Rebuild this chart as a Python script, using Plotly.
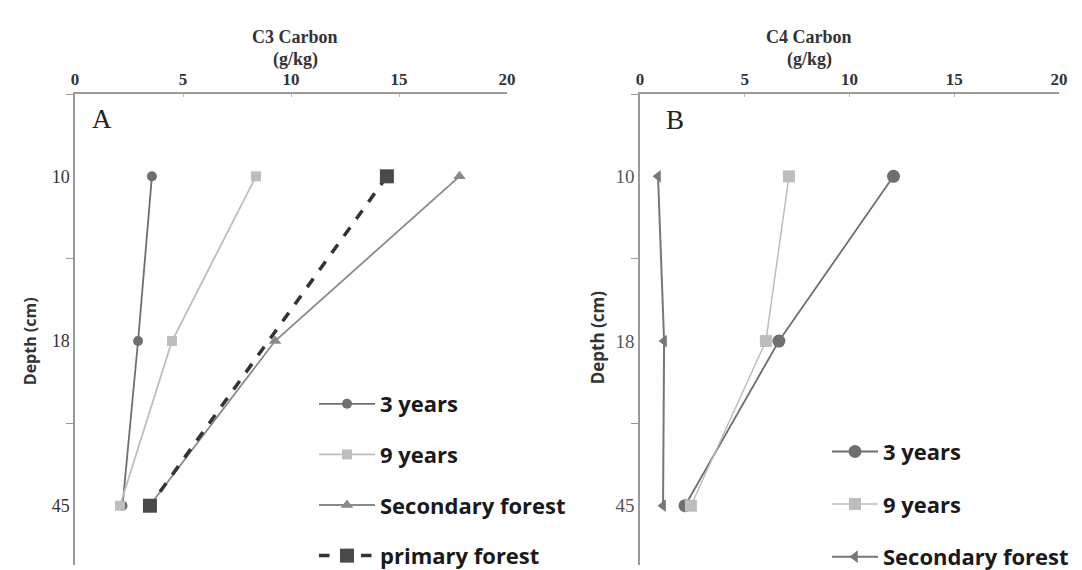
import plotly.graph_objects as go

depths = ["10", "18", "45"]
x_ticks = [0, 5, 10, 15, 20]

# Panel A: C3 carbon (g/kg)
c3_3yr = [3.56, 2.92, 2.2]
c3_9yr = [8.38, 4.49, 2.08]
c3_secondary = [17.8, 9.26, 3.45]
c3_primary = [14.44, None, 3.47]

# Panel B: C4 carbon (g/kg)
c4_3yr = [12.1, 6.63, 2.15]
c4_9yr = [7.11, 6.01, 2.43]
c4_secondary = [0.86, 1.15, 1.1]

W, H = 1082, 570
MT, MB = 86, 0
def px(x):
    return x / W
def py(y):
    return (H - MB - y) / (H - MT - MB)

fig = go.Figure()

c_dark = "#6f6f6f"
c_light = "#bdbdbd"
c_mid = "#8a8a8a"

# Panel A traces
fig.add_trace(go.Scatter(x=c3_3yr, y=depths, name="3 years", mode="lines+markers",
    line=dict(color=c_dark, width=1.8), marker=dict(symbol="circle", size=10, color=c_dark),
    xaxis="x", yaxis="y", legend="legend", legendgroup="a1"))
fig.add_trace(go.Scatter(x=c3_9yr, y=depths, name="9 years", mode="lines+markers",
    line=dict(color=c_light, width=1.8), marker=dict(symbol="square", size=10, color=c_light),
    xaxis="x", yaxis="y", legend="legend", legendgroup="a2"))
fig.add_trace(go.Scatter(x=c3_secondary, y=depths, name="Secondary forest", mode="lines+markers",
    line=dict(color=c_mid, width=1.8), marker=dict(symbol="triangle-up", size=11, color=c_mid),
    xaxis="x", yaxis="y", legend="legend", legendgroup="a3"))
fig.add_trace(go.Scatter(x=c3_primary, y=depths, name="primary forest", mode="lines+markers",
    connectgaps=True,
    line=dict(color="#333333", width=3.5, dash="dash"), marker=dict(symbol="square", size=14, color="#4a4a4a"),
    xaxis="x", yaxis="y", legend="legend", legendgroup="a4"))

# Panel B traces
fig.add_trace(go.Scatter(x=c4_3yr, y=depths, name="3 years", mode="lines+markers",
    line=dict(color=c_dark, width=1.8), marker=dict(symbol="circle", size=13, color=c_dark),
    xaxis="x2", yaxis="y2", legend="legend2", legendgroup="b1"))
fig.add_trace(go.Scatter(x=c4_9yr, y=depths, name="9 years", mode="lines+markers",
    line=dict(color=c_light, width=1.5), marker=dict(symbol="square", size=12, color=c_light),
    xaxis="x2", yaxis="y2", legend="legend2", legendgroup="b2"))
fig.add_trace(go.Scatter(x=c4_secondary, y=depths, name="Secondary forest", mode="lines+markers",
    line=dict(color="#777777", width=2), marker=dict(symbol="triangle-left", size=11, color="#777777"),
    xaxis="x2", yaxis="y2", legend="legend2", legendgroup="b3"))

tickfont_x = dict(family="Liberation Sans Narrow", size=17, color="#333333", weight="bold")
xcommon = dict(range=[0, 20], tickvals=x_ticks, side="top", showgrid=False, zeroline=False,
               showline=True, linecolor="#9a9a9a", linewidth=1.5, ticks="inside", ticklen=3,
               tickcolor="#bbbbbb", tickfont=tickfont_x, automargin=False, fixedrange=True)
ycommon = dict(type="category", categoryarray=depths, categoryorder="array", range=[2.36, -0.5],
               tickson="boundaries", ticks="outside", ticklen=7, tickcolor="#9a9a9a",
               showgrid=False, zeroline=False, showline=True, linecolor="#9a9a9a", linewidth=1.5,
               automargin=False, fixedrange=True)

legfont = dict(family="Open Sans", size=22, color="#1a1a1a", weight="bold")
fig.update_layout(
    width=W, height=H,
    margin=dict(l=0, r=0, t=MT, b=MB),
    paper_bgcolor="white", plot_bgcolor="white",
    xaxis=dict(domain=[px(67), px(499)], anchor="y", **xcommon),
    yaxis=dict(domain=[0, 1], anchor="x",
               tickfont=dict(family="Liberation Serif", size=18, color="#333333"), **ycommon),
    xaxis2=dict(domain=[px(632), px(1051)], anchor="y2", **xcommon),
    yaxis2=dict(domain=[0, 1], anchor="x2",
                tickfont=dict(family="Liberation Sans Narrow", size=19, color="#555555"), **ycommon),
    legend=dict(x=px(306), y=py(383), xanchor="left", yanchor="top", bgcolor="rgba(0,0,0,0)",
                font=legfont, itemwidth=56, tracegroupgap=19, itemclick=False),
    legend2=dict(x=px(819), y=py(432), xanchor="left", yanchor="top", bgcolor="rgba(0,0,0,0)",
                 font=legfont, itemwidth=46, tracegroupgap=21, itemclick=False),
    showlegend=True,
)

annots = [
    dict(text="C3 Carbon", x=px(287), y=py(27)),
    dict(text="(g/kg)", x=px(287), y=py(51)),
    dict(text="C4 Carbon", x=px(801), y=py(27)),
    dict(text="(g/kg)", x=px(801), y=py(51)),
]
for a in annots:
    fig.add_annotation(xref="paper", yref="paper", x=a["x"], y=a["y"], text=a["text"], showarrow=False,
                       xanchor="center", yanchor="middle",
                       font=dict(family="Liberation Sans Narrow", size=18, color="#333333", weight="bold"))

fig.add_annotation(xref="paper", yref="paper", x=px(94), y=py(112), text="A", showarrow=False,
                   xanchor="center", yanchor="middle", font=dict(family="Liberation Serif", size=27, color="#222222"))
fig.add_annotation(xref="paper", yref="paper", x=px(667), y=py(113), text="B", showarrow=False,
                   xanchor="center", yanchor="middle", font=dict(family="Liberation Serif", size=27, color="#222222"))

fig.add_annotation(xref="paper", yref="paper", x=px(22), y=py(340), text="Depth (cm)", showarrow=False,
                   textangle=-90, xanchor="center", yanchor="middle",
                   font=dict(family="Open Sans", size=16, color="#333333", weight="bold"))
fig.add_annotation(xref="paper", yref="paper", x=px(589), y=py(336), text="Depth (cm)", showarrow=False,
                   textangle=-90, xanchor="center", yanchor="middle",
                   font=dict(family="Open Sans", size=17, color="#333333", weight="bold"))

fig.write_html("out.html")
